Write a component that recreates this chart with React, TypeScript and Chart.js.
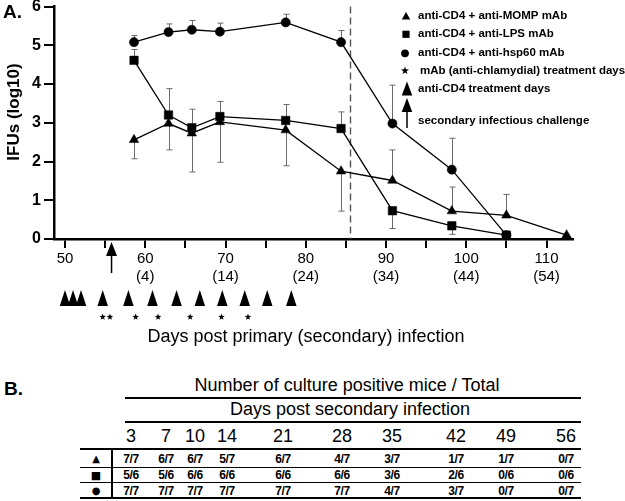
import React, { useEffect, useRef } from 'react';
import { Chart, registerables } from 'chart.js';

Chart.register(...registerables);

// ---------- DATA ----------
const sampleDays = [58.6, 62.9, 65.8, 69.3, 77.5, 84.4, 90.8, 98.2, 105.0];
const mompDays = [58.6, 62.9, 65.8, 69.3, 77.5, 84.4, 90.8, 98.2, 105.0, 112.5];
const mompValues = [2.56, 2.98, 2.73, 3.02, 2.81, 1.75, 1.51, 0.72, 0.61, 0.1];
const mompErrLow = [2.07, 2.3, 1.73, 1.98, 1.89, 0.72, null, null, null, null];
const mompErrHigh = [null, null, null, null, null, null, 2.3, 1.34, 1.15, null];

const lpsValues = [4.61, 3.2, 2.87, 3.16, 3.06, 2.85, 0.73, 0.34, 0.1];
const lpsErrLow = [null, null, null, null, null, null, 0.27, 0.12, null];
const lpsErrHigh = [4.89, 3.88, 3.35, 3.55, 3.47, 3.28, null, null, null];

const hspValues = [5.08, 5.34, 5.4, 5.35, 5.59, 5.08, 2.98, 1.79, 0.1];
const hspErrLow = [null, null, null, null, null, null, null, null, null];
const hspErrHigh = [5.25, 5.55, 5.64, 5.57, 5.8, 5.38, 3.97, 2.6, null];

const xTickValues = [50, 55, 60, 65, 70, 75, 80, 85, 90, 95, 100, 105, 110];
const xLabelDays = [50, 60, 70, 80, 90, 100, 110];
const xSecondaryLabels = ['', '(4)', '(14)', '(24)', '(34)', '(44)', '(54)'];
const yTickValues = [0, 1, 2, 3, 4, 5, 6];

const antiCD4Days = [50, 51, 52, 54.7, 57.9, 60.9, 63.9, 66.8, 69.6, 72.4, 75.2, 78.2];
const mAbDays = [54.7, 55.6, 58.8, 61.6, 65.6, 69.5, 72.8];
const challengeDay = 55.8;
const dashedDay = 85.5;

const legendLabels = [
  'anti-CD4 + anti-MOMP mAb',
  'anti-CD4 + anti-LPS mAb',
  'anti-CD4 + anti-hsp60 mAb',
  'mAb (anti-chlamydial) treatment days',
  'anti-CD4 treatment days',
  'secondary infectious challenge',
];

const tableTitle = 'Number of culture positive mice / Total';
const tableSubtitle = 'Days post secondary infection';
const tableDays = [3, 7, 10, 14, 21, 28, 35, 42, 49, 56];
const tableSymbols = ['▲', '■', '●'];
const mompCulture = ['7/7', '6/7', '6/7', '5/7', '6/7', '4/7', '3/7', '1/7', '1/7', '0/7'];
const lpsCulture = ['5/6', '5/6', '6/6', '6/6', '6/6', '6/6', '3/6', '2/6', '0/6', '0/6'];
const hspCulture = ['7/7', '7/7', '7/7', '7/7', '7/7', '7/7', '4/7', '3/7', '0/7', '0/7'];

// ---------- LAYOUT ----------
const FONT = "'Liberation Sans', Arial, Helvetica, sans-serif";
const CANVAS_W = 625;
const CANVAS_H = 350;
const tableColX = [131, 166, 195, 227, 283, 342, 392, 456, 506, 566];
const tableRowY = [458.5, 475, 490.5];

function tri(ctx: CanvasRenderingContext2D, cx: number, top: number, w: number, h: number) {
  ctx.beginPath();
  ctx.moveTo(cx, top);
  ctx.lineTo(cx + w / 2, top + h);
  ctx.lineTo(cx - w / 2, top + h);
  ctx.closePath();
  ctx.fill();
}

function star(ctx: CanvasRenderingContext2D, cx: number, cy: number, ro: number, ri: number) {
  ctx.beginPath();
  for (let i = 0; i < 10; i++) {
    const r = i % 2 === 0 ? ro : ri;
    const a = -Math.PI / 2 + (i * Math.PI) / 5;
    const px = cx + r * Math.cos(a);
    const py = cy + r * Math.sin(a);
    if (i === 0) ctx.moveTo(px, py);
    else ctx.lineTo(px, py);
  }
  ctx.closePath();
  ctx.fill();
}

const errorSets = [
  { days: mompDays, values: mompValues, low: mompErrLow, high: mompErrHigh },
  { days: sampleDays, values: lpsValues, low: lpsErrLow, high: lpsErrHigh },
  { days: sampleDays, values: hspValues, low: hspErrLow, high: hspErrHigh },
];

const decorPlugin = {
  id: 'decor',
  beforeDatasetsDraw(chart: any) {
    const ctx: CanvasRenderingContext2D = chart.ctx;
    const xs = chart.scales.x;
    const ys = chart.scales.y;
    const area = chart.chartArea;
    ctx.save();
    // dashed line
    ctx.strokeStyle = '#555';
    ctx.lineWidth = 1.4;
    ctx.setLineDash([7, 4]);
    const dx = Math.round(xs.getPixelForValue(dashedDay)) + 0.5;
    ctx.beginPath();
    ctx.moveTo(dx, area.top);
    ctx.lineTo(dx, area.bottom);
    ctx.stroke();
    ctx.setLineDash([]);
    // error bars
    ctx.strokeStyle = '#6a6a6a';
    ctx.lineWidth = 1;
    errorSets.forEach((s) => {
      s.days.forEach((d, i) => {
        const px = Math.round(xs.getPixelForValue(d)) + 0.5;
        const py = ys.getPixelForValue(s.values[i]);
        [s.low[i], s.high[i]].forEach((e) => {
          if (e === null || e === undefined) return;
          const ey = ys.getPixelForValue(e);
          ctx.beginPath();
          ctx.moveTo(px, py);
          ctx.lineTo(px, ey);
          ctx.moveTo(px - 3, ey);
          ctx.lineTo(px + 3, ey);
          ctx.stroke();
        });
      });
    });
    ctx.restore();
  },
  afterDraw(chart: any) {
    const ctx: CanvasRenderingContext2D = chart.ctx;
    const xs = chart.scales.x;
    ctx.save();
    ctx.fillStyle = '#000';
    ctx.strokeStyle = '#000';

    // panel letter
    ctx.font = `bold 19px ${FONT}`;
    ctx.textAlign = 'left';
    ctx.textBaseline = 'alphabetic';
    ctx.fillText('A.', 3, 18);

    // y title
    ctx.save();
    ctx.translate(14, 112);
    ctx.rotate(-Math.PI / 2);
    ctx.font = `bold 17px ${FONT}`;
    ctx.textAlign = 'center';
    ctx.textBaseline = 'middle';
    ctx.fillText('IFUs (log10)', 0, 0);
    ctx.restore();

    // x title
    ctx.font = `18px ${FONT}`;
    ctx.textAlign = 'center';
    ctx.textBaseline = 'middle';
    ctx.fillText('Days post primary (secondary) infection', 306, 337);

    // challenge arrow
    const ax = xs.getPixelForValue(challengeDay);
    tri(ctx, ax, 242, 11, 14);
    ctx.lineWidth = 1.5;
    ctx.beginPath();
    ctx.moveTo(ax, 255);
    ctx.lineTo(ax, 273);
    ctx.stroke();

    // anti-CD4 treatment triangles
    antiCD4Days.forEach((d) => tri(ctx, xs.getPixelForValue(d), 290, 10.5, 16));
    // mAb treatment stars
    mAbDays.forEach((d) => star(ctx, xs.getPixelForValue(d), 317, 3.4, 1.4));

    // legend
    const lx = 406;
    const rows = [15.7, 34.3, 53.3, 70.7, 89, 120.7];
    tri(ctx, lx, rows[0] - 3.8, 8.5, 7.5);
    ctx.fillRect(lx - 3.6, rows[1] - 3.6, 7.2, 7.2);
    ctx.beginPath();
    ctx.arc(lx - 1, rows[2], 3.9, 0, Math.PI * 2);
    ctx.fill();
    star(ctx, lx - 1, rows[3], 4.2, 1.7);
    tri(ctx, lx + 1, 81.5, 10.5, 14);
    tri(ctx, lx + 1, 98, 10.5, 14);
    ctx.lineWidth = 1.5;
    ctx.beginPath();
    ctx.moveTo(lx + 1, 110);
    ctx.lineTo(lx + 1, 128);
    ctx.stroke();

    ctx.font = `bold 11.5px ${FONT}`;
    ctx.textAlign = 'left';
    ctx.textBaseline = 'middle';
    legendLabels.forEach((t, i) => ctx.fillText(t, i === 3 ? 420 : 418, rows[i]));
    ctx.restore();
  },
};

function ChartPanel() {
  const ref = useRef<HTMLCanvasElement | null>(null);
  useEffect(() => {
    if (!ref.current) return;
    const pt = (days: number[], vals: number[]) => days.map((d, i) => ({ x: d, y: vals[i] }));
    const common = {
      showLine: true,
      borderColor: '#000',
      borderWidth: 1.3,
      backgroundColor: '#000',
      pointBackgroundColor: '#000',
      pointBorderColor: '#000',
      pointBorderWidth: 0.5,
    };
    const chart = new Chart(ref.current, {
      type: 'scatter',
      data: {
        datasets: [
          { ...common, label: legendLabels[0], data: pt(mompDays, mompValues), pointStyle: 'triangle', pointRadius: 5.5 },
          { ...common, label: legendLabels[1], data: pt(sampleDays, lpsValues), pointStyle: 'rect', pointRadius: 6 },
          { ...common, label: legendLabels[2], data: pt(sampleDays, hspValues), pointStyle: 'circle', pointRadius: 4.6 },
        ],
      },
      options: {
        animation: false,
        responsive: false,
        maintainAspectRatio: false,
        layout: { padding: { left: 0, right: 52, top: 5, bottom: 0 } },
        plugins: { legend: { display: false }, tooltip: { enabled: false } },
        scales: {
          x: {
            type: 'linear',
            min: 48.63,
            max: 113.3,
            afterBuildTicks: (s: any) => {
              s.ticks = xTickValues.map((v) => ({ value: v }));
            },
            afterFit: (s: any) => {
              s.height = CANVAS_H - 239;
              s.paddingLeft = 0;
              s.paddingRight = 0;
            },
            ticks: {
              autoSkip: false,
              maxRotation: 0,
              minRotation: 0,
              padding: 2,
              color: '#000',
              font: { family: FONT, size: 15, lineHeight: 1.2 },
              callback: (v: any) => {
                const i = xLabelDays.indexOf(Number(v));
                if (i < 0) return '';
                return xSecondaryLabels[i] ? [String(v), xSecondaryLabels[i]] : String(v);
              },
            },
            grid: { drawOnChartArea: false, drawTicks: true, tickLength: 9, color: '#000', lineWidth: 2 },
            border: { color: '#000', width: 2.5 },
          },
          y: {
            min: 0,
            max: 6,
            afterBuildTicks: (s: any) => {
              s.ticks = yTickValues.map((v) => ({ value: v }));
            },
            afterFit: (s: any) => {
              s.width = 54;
              s.paddingTop = 0;
              s.paddingBottom = 0;
            },
            ticks: {
              padding: 3,
              color: '#000',
              font: { family: FONT, size: 16, weight: 'bold' },
            },
            grid: { drawOnChartArea: false, drawTicks: true, tickLength: 10, color: '#000', lineWidth: 2 },
            border: { color: '#000', width: 2.5 },
          },
        },
      } as any,
      plugins: [decorPlugin],
    });
    return () => chart.destroy();
  }, []);
  return (
    <canvas
      ref={ref}
      width={CANVAS_W}
      height={CANVAS_H}
      style={{ position: 'absolute', left: 0, top: 0, width: CANVAS_W, height: CANVAS_H }}
    />
  );
}

function Txt(props: { x: number; y: number; size: number; bold?: boolean; children: React.ReactNode; left?: boolean; family?: string }) {
  return (
    <div
      style={{
        position: 'absolute',
        left: props.x,
        top: props.y,
        transform: props.left ? 'translate(0,-50%)' : 'translate(-50%,-50%)',
        fontFamily: props.family || FONT,
        fontSize: props.size,
        fontWeight: props.bold ? 'bold' : 'normal',
        lineHeight: 1,
        whiteSpace: 'nowrap',
        color: '#000',
      }}
    >
      {props.children}
    </div>
  );
}

function HLine(props: { x1: number; x2: number; y: number; w: number }) {
  return (
    <div
      style={{
        position: 'absolute',
        left: props.x1,
        top: props.y - props.w / 2,
        width: props.x2 - props.x1,
        height: props.w,
        background: '#000',
      }}
    />
  );
}

function TablePanel() {
  const rows = [mompCulture, lpsCulture, hspCulture];
  return (
    <>
      <Txt x={4} y={388} size={19} bold left>
        B.
      </Txt>
      <Txt x={347} y={385} size={18}>
        {tableTitle}
      </Txt>
      <HLine x1={125} x2={581} y={397.5} w={2} />
      <Txt x={350} y={408.5} size={18}>
        {tableSubtitle}
      </Txt>
      <HLine x1={125} x2={581} y={421.5} w={2} />
      {tableDays.map((d, i) => (
        <Txt key={'h' + i} x={tableColX[i]} y={436} size={18}>
          {d}
        </Txt>
      ))}
      <HLine x1={80} x2={581} y={449.3} w={2} />
      <HLine x1={80} x2={581} y={467.3} w={1.5} />
      <HLine x1={80} x2={581} y={482.7} w={1.5} />
      <HLine x1={80} x2={581} y={498.3} w={2} />
      <div style={{ position: 'absolute', left: 111, top: 449, width: 1.5, height: 49.5, background: '#000' }} />
      {tableSymbols.map((s, r) => (
        <Txt key={'s' + r} x={96} y={tableRowY[r]} size={r === 1 ? 11 : 10} family="'DejaVu Sans', sans-serif">
          {s}
        </Txt>
      ))}
      {rows.map((row, r) =>
        row.map((v, c) => (
          <Txt key={'v' + r + '-' + c} x={tableColX[c]} y={tableRowY[r]} size={12} bold>
            <span style={{ letterSpacing: '-0.4px' }}>{v}</span>
          </Txt>
        ))
      )}
    </>
  );
}

export default function App() {
  return (
    <div
      style={{
        position: 'absolute',
        left: 0,
        top: 0,
        width: 625,
        height: 501,
        background: '#fff',
        overflow: 'hidden',
      }}
    >
      <ChartPanel />
      <TablePanel />
    </div>
  );
}
